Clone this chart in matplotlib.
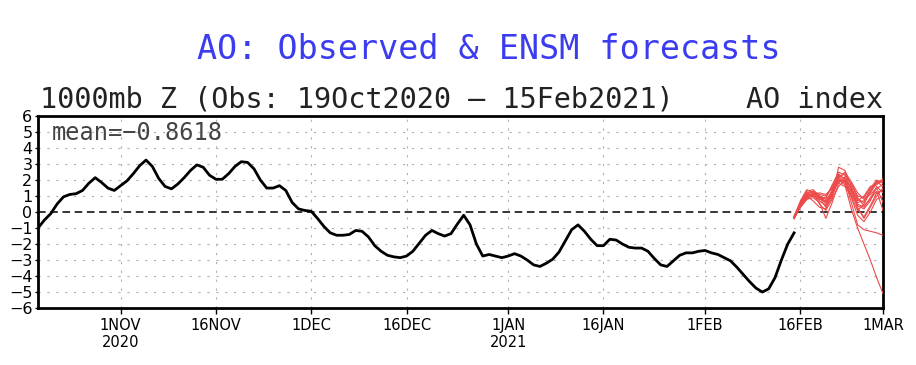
import matplotlib.pyplot as plt
import pandas as pd

# observed AO index, daily from 19 Oct 2020 to 15 Feb 2021
obs_start = '2020-10-19'
ao_obs = [
    -1.0, -0.5, -0.1, 0.5, 0.95, 1.1, 1.15, 1.35, 1.8, 2.15,
    1.85, 1.5, 1.35, 1.65, 1.95, 2.4, 2.9, 3.25, 2.85, 2.1,
    1.6, 1.45, 1.75, 2.15, 2.6, 2.95, 2.8, 2.3, 2.05, 2.05,
    2.4, 2.85, 3.15, 3.1, 2.7, 2.0, 1.5, 1.5, 1.65, 1.35,
    0.6, 0.2, 0.1, 0.05, -0.4, -0.9, -1.3, -1.45, -1.45, -1.4,
    -1.15, -1.2, -1.55, -2.1, -2.45, -2.7, -2.8, -2.85, -2.75, -2.45,
    -1.95, -1.45, -1.15, -1.35, -1.5, -1.35, -0.75, -0.2, -0.8, -2.0,
    -2.75, -2.65, -2.75, -2.85, -2.75, -2.6, -2.75, -3.0, -3.3, -3.4,
    -3.2, -2.95, -2.5, -1.8, -1.1, -0.8, -1.2, -1.7, -2.1, -2.1,
    -1.7, -1.75, -2.0, -2.2, -2.25, -2.25, -2.45, -2.9, -3.3, -3.4,
    -3.05, -2.7, -2.55, -2.55, -2.45, -2.4, -2.55, -2.65, -2.85, -3.05,
    -3.45, -3.9, -4.35, -4.75, -5.0, -4.8, -4.1, -3.0, -2.0, -1.3,
]

# ensemble forecasts, daily from 15 Feb to 1 Mar 2021
fcst_start = '2021-02-15'
ensm = [
    [-0.4, 0.5, 1.0, 1.1, 0.8, 0.7, 1.3, 2.0, 1.9, 1.2, 0.5, 0.3, 0.9, 1.5, 1.7],
    [-0.3, 0.6, 1.2, 1.0, 0.9, 0.9, 1.6, 2.3, 2.1, 1.5, 0.8, 0.6, 1.2, 1.8, 1.9],
    [-0.2, 0.4, 0.9, 1.2, 1.0, 0.5, 1.0, 2.8, 2.6, 1.6, 0.2, -0.3, 0.4, 1.2, 1.4],
    [-0.4, 0.3, 0.8, 0.9, 0.6, -0.4, 0.6, 1.8, 2.2, 1.8, 1.0, 0.9, 1.5, 2.0, 1.8],
    [-0.3, 0.5, 1.1, 1.3, 1.1, 1.0, 1.5, 2.1, 1.8, 0.9, -0.2, -0.6, 0.0, 0.8, 1.0],
    [-0.4, 0.4, 1.0, 1.1, 1.0, 0.8, 1.2, 1.9, 2.0, 1.3, 0.6, 0.7, 1.4, 1.9, 2.0],
    [-0.3, 0.6, 1.3, 1.4, 1.0, 0.6, 1.1, 2.2, 2.4, 1.7, 0.9, 0.4, 0.8, 1.3, 0.1],
    [-0.4, 0.4, 0.9, 1.0, 0.7, 0.4, 1.4, 2.4, 2.0, 0.6, -0.8, -1.1, -1.2, -1.3, -1.45],
    [-0.3, 0.5, 1.0, 1.2, 0.9, 0.7, 1.3, 2.0, 1.7, 0.2, -1.0, -2.0, -3.0, -4.1, -5.1],
    [-0.4, 0.5, 1.1, 1.0, 0.8, 0.9, 1.7, 2.5, 2.3, 1.4, 0.7, 1.0, 1.6, 1.7, 2.1],
    [-0.3, 0.3, 0.8, 1.1, 1.2, 1.1, 1.5, 1.8, 1.6, 1.1, 0.4, 0.2, 0.7, 1.6, 1.2],
    [-0.4, 0.6, 1.2, 1.3, 0.9, 0.3, 0.9, 2.1, 2.5, 1.9, 1.2, 0.8, 1.1, 1.5, 0.6],
    [-0.3, 0.7, 1.4, 1.2, 0.5, 0.1, 0.8, 1.6, 2.0, 1.5, 0.3, -0.4, 0.3, 1.0, 1.5],
    [-0.4, 0.4, 1.0, 0.7, 0.3, 0.2, 1.2, 2.2, 1.9, 1.0, 0.1, 0.5, 1.3, 1.9, 1.6],
]

tick_dates = ['2020-11-01', '2020-11-16', '2020-12-01', '2020-12-16', '2021-01-01',
              '2021-01-16', '2021-02-01', '2021-02-16', '2021-03-01']
tick_labels = ['1NOV\n2020', '16NOV', '1DEC', '16DEC', '1JAN\n2021',
               '16JAN', '1FEB', '16FEB', '1MAR']
mean_val = '-0.8618'

fig = plt.figure(figsize=(9.16, 3.65), dpi=100)
ax = fig.add_axes([0.0415, 0.156, 0.9225, 0.526])

obs_dates = pd.date_range(obs_start, periods=len(ao_obs), freq='D')
fc_dates = pd.date_range(fcst_start, periods=len(ensm[0]), freq='D')

ticks = pd.to_datetime(tick_dates)
for t in ticks[:-1]:
    ax.axvline(t, color='#b0b0b0', lw=0.8, ls=(0, (2, 6)), zorder=1)
for y in range(-5, 6):
    if y != 0:
        ax.axhline(y, color='#b0b0b0', lw=0.8, ls=(0, (2, 6)), zorder=1)
ax.axhline(0, color='black', lw=1.1, ls=(0, (5, 3)), zorder=2)

for m in ensm:
    ax.plot(fc_dates, m, color='#ec4a4a', lw=0.8, zorder=3)
ax.plot(obs_dates, ao_obs, color='black', lw=2.0, zorder=4)

ax.set_xlim(pd.Timestamp(obs_start), pd.Timestamp('2021-03-01'))
ax.set_ylim(-6, 6)
ax.set_yticks(range(-6, 7))
ax.set_yticklabels([str(v).replace('-', '\u2212') for v in range(-6, 7)],
                   fontsize=11.5, family='DejaVu Sans')
ax.set_xticks(ticks)
ax.set_xticklabels(tick_labels, fontsize=10.5, family='DejaVu Sans', linespacing=1.15)
ax.tick_params(axis='x', direction='out', length=4, width=1, pad=3)
ax.tick_params(axis='y', direction='out', length=2, width=1, pad=2)
for s in ax.spines.values():
    s.set_linewidth(2)

ax.text(0.016, 0.975, 'mean=' + mean_val.replace('-', '\u2212'), transform=ax.transAxes,
        ha='left', va='top', fontsize=17, family='DejaVu Sans Mono', color='#444444')

fig.text(0.534, 0.865, 'AO: Observed & ENSM forecasts', ha='center', va='center',
         fontsize=24, family='DejaVu Sans Mono', color='#3b3bf0')
fig.text(0.044, 0.727, '1000mb Z (Obs: 19Oct2020 \u2013 15Feb2021)', ha='left', va='center',
         fontsize=20.5, family='DejaVu Sans Mono', color='#222222')
fig.text(0.964, 0.727, 'AO index', ha='right', va='center',
         fontsize=20.5, family='DejaVu Sans Mono', color='#222222')

fig.savefig('out.png', dpi=100)
